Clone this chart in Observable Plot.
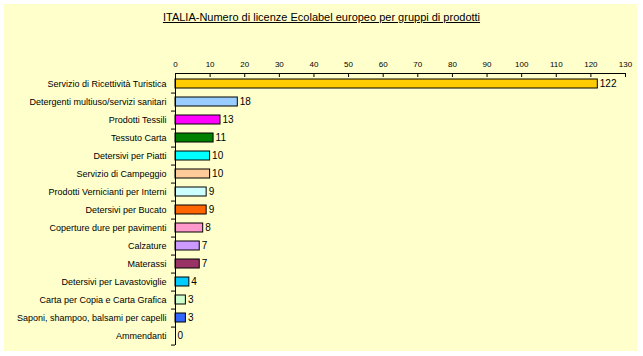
<!DOCTYPE html>
<html>
<head>
<meta charset="utf-8">
<script src="https://cdn.jsdelivr.net/npm/d3@7"></script>
<script src="https://cdn.jsdelivr.net/npm/@observablehq/plot@0.6"></script>
<style>
  html, body { margin: 0; padding: 0; background: #ffffff; }
  #wrap { position: relative; width: 643px; height: 356px; }
  #bg { position: absolute; left: 4px; top: 4px; width: 633px; height: 347px; background: #FFFFCC; }
  #title { position: absolute; left: 0; top: 11px; width: 643px; text-align: center;
           font: 11px "Liberation Sans", Arial, sans-serif; text-decoration: underline; color: #000; }
  #chart { position: absolute; left: 0; top: 0; }
</style>
</head>
<body>
<div id="wrap">
  <div id="bg"></div>
  <div id="title">ITALIA-Numero di licenze Ecolabel europeo per gruppi di prodotti</div>
  <div id="chart"></div>
</div>
<script>
const categories = [
  "Servizio di Ricettività Turistica",
  "Detergenti multiuso/servizi sanitari",
  "Prodotti Tessili",
  "Tessuto Carta",
  "Detersivi per Piatti",
  "Servizio di Campeggio",
  "Prodotti Vernicianti per Interni",
  "Detersivi per Bucato",
  "Coperture dure per pavimenti",
  "Calzature",
  "Materassi",
  "Detersivi per Lavastoviglie",
  "Carta per Copia e Carta Grafica",
  "Saponi, shampoo, balsami per capelli",
  "Ammendanti"
];
const values = [122, 18, 13, 11, 10, 10, 9, 9, 8, 7, 7, 4, 3, 3, 0];
const colors = ["#FFCC00", "#99CCFF", "#FF00FF", "#008000", "#00FFFF", "#FFCC99", "#CCFFFF",
                "#FF6600", "#FF99CC", "#CC99FF", "#993366", "#00CCFF", "#CCFFCC", "#3366FF", "#FFFFFF"];
const xTicks = [0, 10, 20, 30, 40, 50, 60, 70, 80, 90, 100, 110, 120, 130];

const data = categories.map((c, i) => ({cat: c, val: values[i], color: colors[i]}));

const W = 643, H = 356;
const mTop = 73, mBottom = 11, mLeft = 175, mRight = 18;
const step = (H - mTop - mBottom) / categories.length;

const font = '"Liberation Sans", Arial, sans-serif';

const chart = Plot.plot({
  width: W,
  height: H,
  marginTop: mTop,
  marginBottom: mBottom,
  marginLeft: mLeft,
  marginRight: mRight,
  style: { background: "transparent", fontFamily: font, fontSize: "9px", color: "#000" },
  x: { domain: [0, 130], axis: null, label: null },
  y: { domain: categories, axis: null, label: null, paddingInner: 0.5, paddingOuter: 0.25 },
  marks: [
    Plot.barX(data, { x: "val", y: "cat", fill: "color", stroke: "#000", strokeWidth: 1 }),
    Plot.text(data, { x: "val", y: "cat", text: d => String(d.val), textAnchor: "start", dx: 2, fontSize: 10, fill: "#000" }),
    Plot.ruleX([0], { stroke: "#000" }),
    Plot.frame({ anchor: "top", stroke: "#000" }),
    Plot.axisX({ anchor: "top", ticks: xTicks, tickSize: -3, text: null, label: null, stroke: "#000" }),
    Plot.axisX({ anchor: "top", ticks: xTicks, tickSize: 0, tickPadding: 7, label: null, fontSize: 8, fill: "#000" }),
    Plot.axisY({ ticks: categories, tickSize: 4, text: null, label: null, dy: step / 2, stroke: "#000" }),
    Plot.axisY({ ticks: categories, tickSize: 0, tickPadding: 9, label: null, fontSize: 9, fill: "#000" })
  ]
});
document.getElementById("chart").appendChild(chart);
</script>
</body>
</html>
